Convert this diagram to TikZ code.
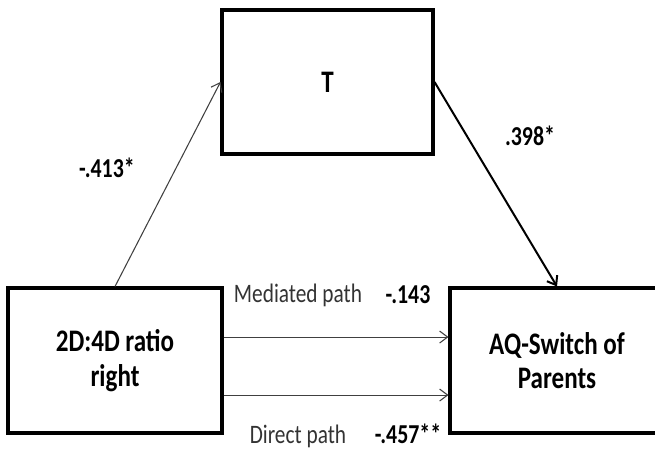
\documentclass[tikz,border=0pt]{standalone}
\usepackage{fontspec}
\setmainfont{Carlito}[FakeStretch=0.8]
\usetikzlibrary{arrows.meta}

\tikzset{
  varbox/.style={draw=black, line width=2.3pt, minimum width=160.5pt, minimum height=108.75pt,
                 align=center, inner sep=0pt, font=\bfseries\fontsize{23.5}{26}\selectfont},
  path/.style={-{Straight Barb[length=6pt, width=9pt]}, line width=0.8pt, color=black!75},
  coef/.style={anchor=base, font=\bfseries\fontsize{20.5}{24}\selectfont},
  pathname/.style={anchor=base, font=\fontsize{20}{24}\selectfont, color=black!80}
}

\begin{document}
\begin{tikzpicture}[x=0.75pt, y=-0.75pt]

 %%%%%%%%%% Frame %%%%%%%%%%
 \useasboundingbox (0,0) rectangle (655,450);
 \clip (0,0) rectangle (655,450);

 %%%%%%%%%% Boxes %%%%%%%%%%
 \node[varbox, minimum width=158.25pt, minimum height=108pt] (T) at (327.5,82) {T};
 \node[varbox] (R) at (115,360.5) {2D:4D ratio\\right};
 \node[varbox] (AQ) at (557,360.5) {AQ-Switch of\\Parents};

 %%%%%%%%%% Paths %%%%%%%%%%
 \draw [path] (R.north) -- (T.west) ;
 \draw [path, line width=1.5pt, color=black] (T.east) -- (AQ.north) ;
 \draw [path] ([yshift=17.6pt]R.east) -- ([yshift=17.6pt]AQ.west) ;
 \draw [path] ([yshift=-25.9pt]R.east) -- ([yshift=-25.9pt]AQ.west) ;

 %%%%%%%%%% Coefficients %%%%%%%%%%
 \node[coef] (a) at (107,177) {-.413*};
 \node[coef] (b) at (530,145) {.398*};
 \node[pathname] (med) at (298,302) {Mediated path};
 \node[coef] (c) at (408,303) {-.143};
 \node[pathname] (dir) at (298,443) {Direct path};
 \node[coef] (cp) at (408,443) {-.457**};

\end{tikzpicture}
\end{document}
